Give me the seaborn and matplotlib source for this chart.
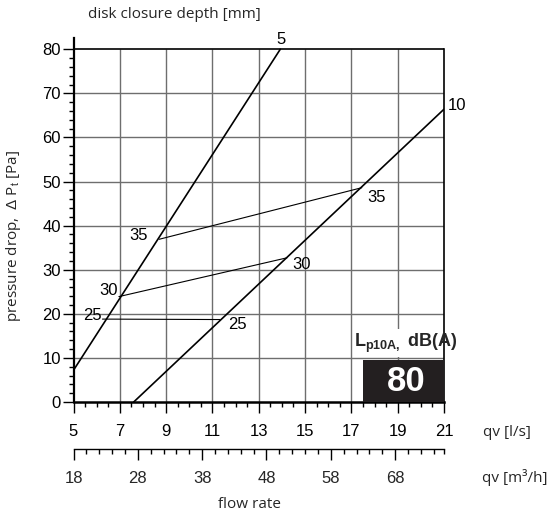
import numpy as np
import pandas as pd
import matplotlib
matplotlib.use("Agg")
import matplotlib.pyplot as plt
import seaborn as sns
from matplotlib.ticker import FixedLocator

# ---------------- data ----------------
# disk closure depth lines [mm]
depth_names = ["5", "10"]
depth5_q = [5.0, 13.93]
depth5_p = [7.2, 80.0]
depth10_q = [7.6, 21.0]
depth10_p = [0.0, 66.4]

# sound level lines Lp10A [dB(A)]
sound_names = ["25", "30", "35"]
sound25_q = [6.25, 11.33]
sound25_p = [18.8, 18.7]
sound30_q = [6.96, 14.22]
sound30_p = [23.9, 32.7]
sound35_q = [8.70, 17.45]
sound35_p = [36.9, 48.6]

x_ticks_ls = [5, 7, 9, 11, 13, 15, 17, 19, 21]
x_ticks_m3h = [18, 28, 38, 48, 58, 68]
y_ticks = [0, 10, 20, 30, 40, 50, 60, 70, 80]
legend_value = "80"
legend_q = [17.5, 21.0]
legend_top = 9.5

# ---------------- styling ----------------
sns.set_theme(style="ticks")
plt.rcParams["font.family"] = ["Liberation Sans", "DejaVu Sans"]
plt.rcParams["mathtext.fontset"] = "custom"
plt.rcParams["mathtext.rm"] = "Liberation Sans"
plt.rcParams["mathtext.it"] = "Liberation Sans"
plt.rcParams["mathtext.bf"] = "Liberation Sans:bold"

W, H = 558, 518
fig = plt.figure(figsize=(W / 100, H / 100), dpi=100)
left_px, right_px, bottom_px, top_px = 73.5, 444.0, 402.0, 38.2
ax = fig.add_axes([left_px / W, 1 - bottom_px / H,
                   (right_px - left_px) / W, (bottom_px - top_px) / H])
ax.set_xlim(5, 21)
ax.set_ylim(0, 82.5)

grid_c = "#6e6e6e"
ax.vlines(x_ticks_ls[1:-1], 0, 80, color=grid_c, lw=1.0, zorder=1)
ax.hlines(y_ticks[1:-1], 5, 21, color=grid_c, lw=1.0, zorder=1)
ax.hlines([80], 5, 21, color="black", lw=1.2, zorder=2)

# lines
for q, p in [(depth5_q, depth5_p), (depth10_q, depth10_p)]:
    sns.lineplot(x=q, y=p, ax=ax, color="black", lw=1.2, zorder=3)
for q, p in [(sound25_q, sound25_p), (sound30_q, sound30_p), (sound35_q, sound35_p)]:
    sns.lineplot(x=q, y=p, ax=ax, color="black", lw=0.8, zorder=3)

lab_kw = dict(fontsize=12, color="black", zorder=5)
ax.text(depth5_q[1] + 0.05, 80.4, depth_names[0], ha="center", va="bottom", **lab_kw)
ax.text(21.15, depth10_p[1] + 0.8, depth_names[1], ha="left", va="center", clip_on=False, **lab_kw)
ax.text(sound25_q[0] - 0.45, sound25_p[0] + 0.9, sound_names[0], ha="center", va="center", **lab_kw)
ax.text(sound25_q[1] + 0.75, sound25_p[1] - 1.2, sound_names[0], ha="center", va="center", **lab_kw)
ax.text(sound30_q[0] - 0.45, sound30_p[0] + 1.3, sound_names[1], ha="center", va="center", **lab_kw)
ax.text(sound30_q[1] + 0.65, sound30_p[1] - 1.6, sound_names[1], ha="center", va="center", **lab_kw)
ax.text(sound35_q[0] - 0.9, sound35_p[0] + 0.8, sound_names[2], ha="center", va="center", **lab_kw)
ax.text(sound35_q[1] + 0.65, sound35_p[1] - 2.2, sound_names[2], ha="center", va="center", **lab_kw)

# legend box
ax.fill_between([17.06, 21], 10.3, 16.6, color="white", lw=0, zorder=2.5)
ax.fill_between(legend_q, 0, legend_top, color="#231f20", lw=0, zorder=4)
ax.text(19.35, legend_top / 2 - 0.1, legend_value, color="white", fontsize=25,
        fontweight="heavy", ha="center", va="center", zorder=6)
ax.text(19.35, 13.4, r"$\mathbf{L_{p10A,}}$ dB(A)", fontsize=13, fontweight="bold",
        ha="center", va="center", zorder=6, clip_on=False)

# spines & ticks
ax.spines["top"].set_visible(False)
ax.spines["right"].set_bounds(0, 80)
ax.spines["right"].set_linewidth(1.2)
ax.spines["left"].set_linewidth(1.6)
ax.spines["bottom"].set_linewidth(1.8)
for s in ax.spines.values():
    s.set_color("black")
ax.set_xticks(x_ticks_ls)
ax.set_yticks(y_ticks)
ax.xaxis.set_minor_locator(FixedLocator(np.arange(5, 21.01, 0.5)))
ax.yaxis.set_minor_locator(FixedLocator(np.arange(0, 80.01, 2)))
ax.tick_params(axis="both", which="major", direction="out", length=8, width=1.0,
               color="black", labelsize=12, labelcolor="black")
ax.tick_params(axis="both", which="minor", direction="out", length=3.5, width=1.0, color="black")
ax.tick_params(axis="y", which="major", pad=1.0)
ax.tick_params(axis="x", which="major", pad=7.5)
ax.set_xlabel("")
ax.set_ylabel("")

sec = ax.secondary_xaxis(-0.13, functions=(lambda q: q * 3.6, lambda m: m / 3.6))
sec.set_xticks(x_ticks_m3h)
sec.xaxis.set_minor_locator(FixedLocator(list(np.arange(18, 75, 2)) + [75.6]))
sec.tick_params(axis="x", which="major", direction="out", length=8, width=1.0,
                color="black", labelsize=12, pad=7.5)
sec.tick_params(axis="x", which="minor", direction="out", length=3.5, width=1.0, color="black")
sec.spines["bottom"].set_linewidth(1.0)
sec.spines["bottom"].set_color("black")

# texts
txt_font = ["Open Sans", "DejaVu Sans"]
fig.text(174 / W, 1 - 15 / H, "disk closure depth [mm]", family=txt_font, fontsize=11,
         ha="center", va="center")
fig.text(14 / W, 1 - 236 / H, r"pressure drop,  $\Delta$ P$_\mathrm{t}$ [Pa]", family=txt_font,
         fontsize=11, rotation=90, ha="center", va="center")
fig.text(507 / W, 1 - 432 / H, "qv [l/s]", family=txt_font, fontsize=11, ha="center", va="center")
fig.text(515 / W, 1 - 478 / H, "qv [m³/h]", family=txt_font, fontsize=11, ha="center", va="center")
fig.text(250 / W, 1 - 504 / H, "flow rate", family=txt_font, fontsize=11, ha="center", va="center")

fig.savefig("out.png", dpi=100)
